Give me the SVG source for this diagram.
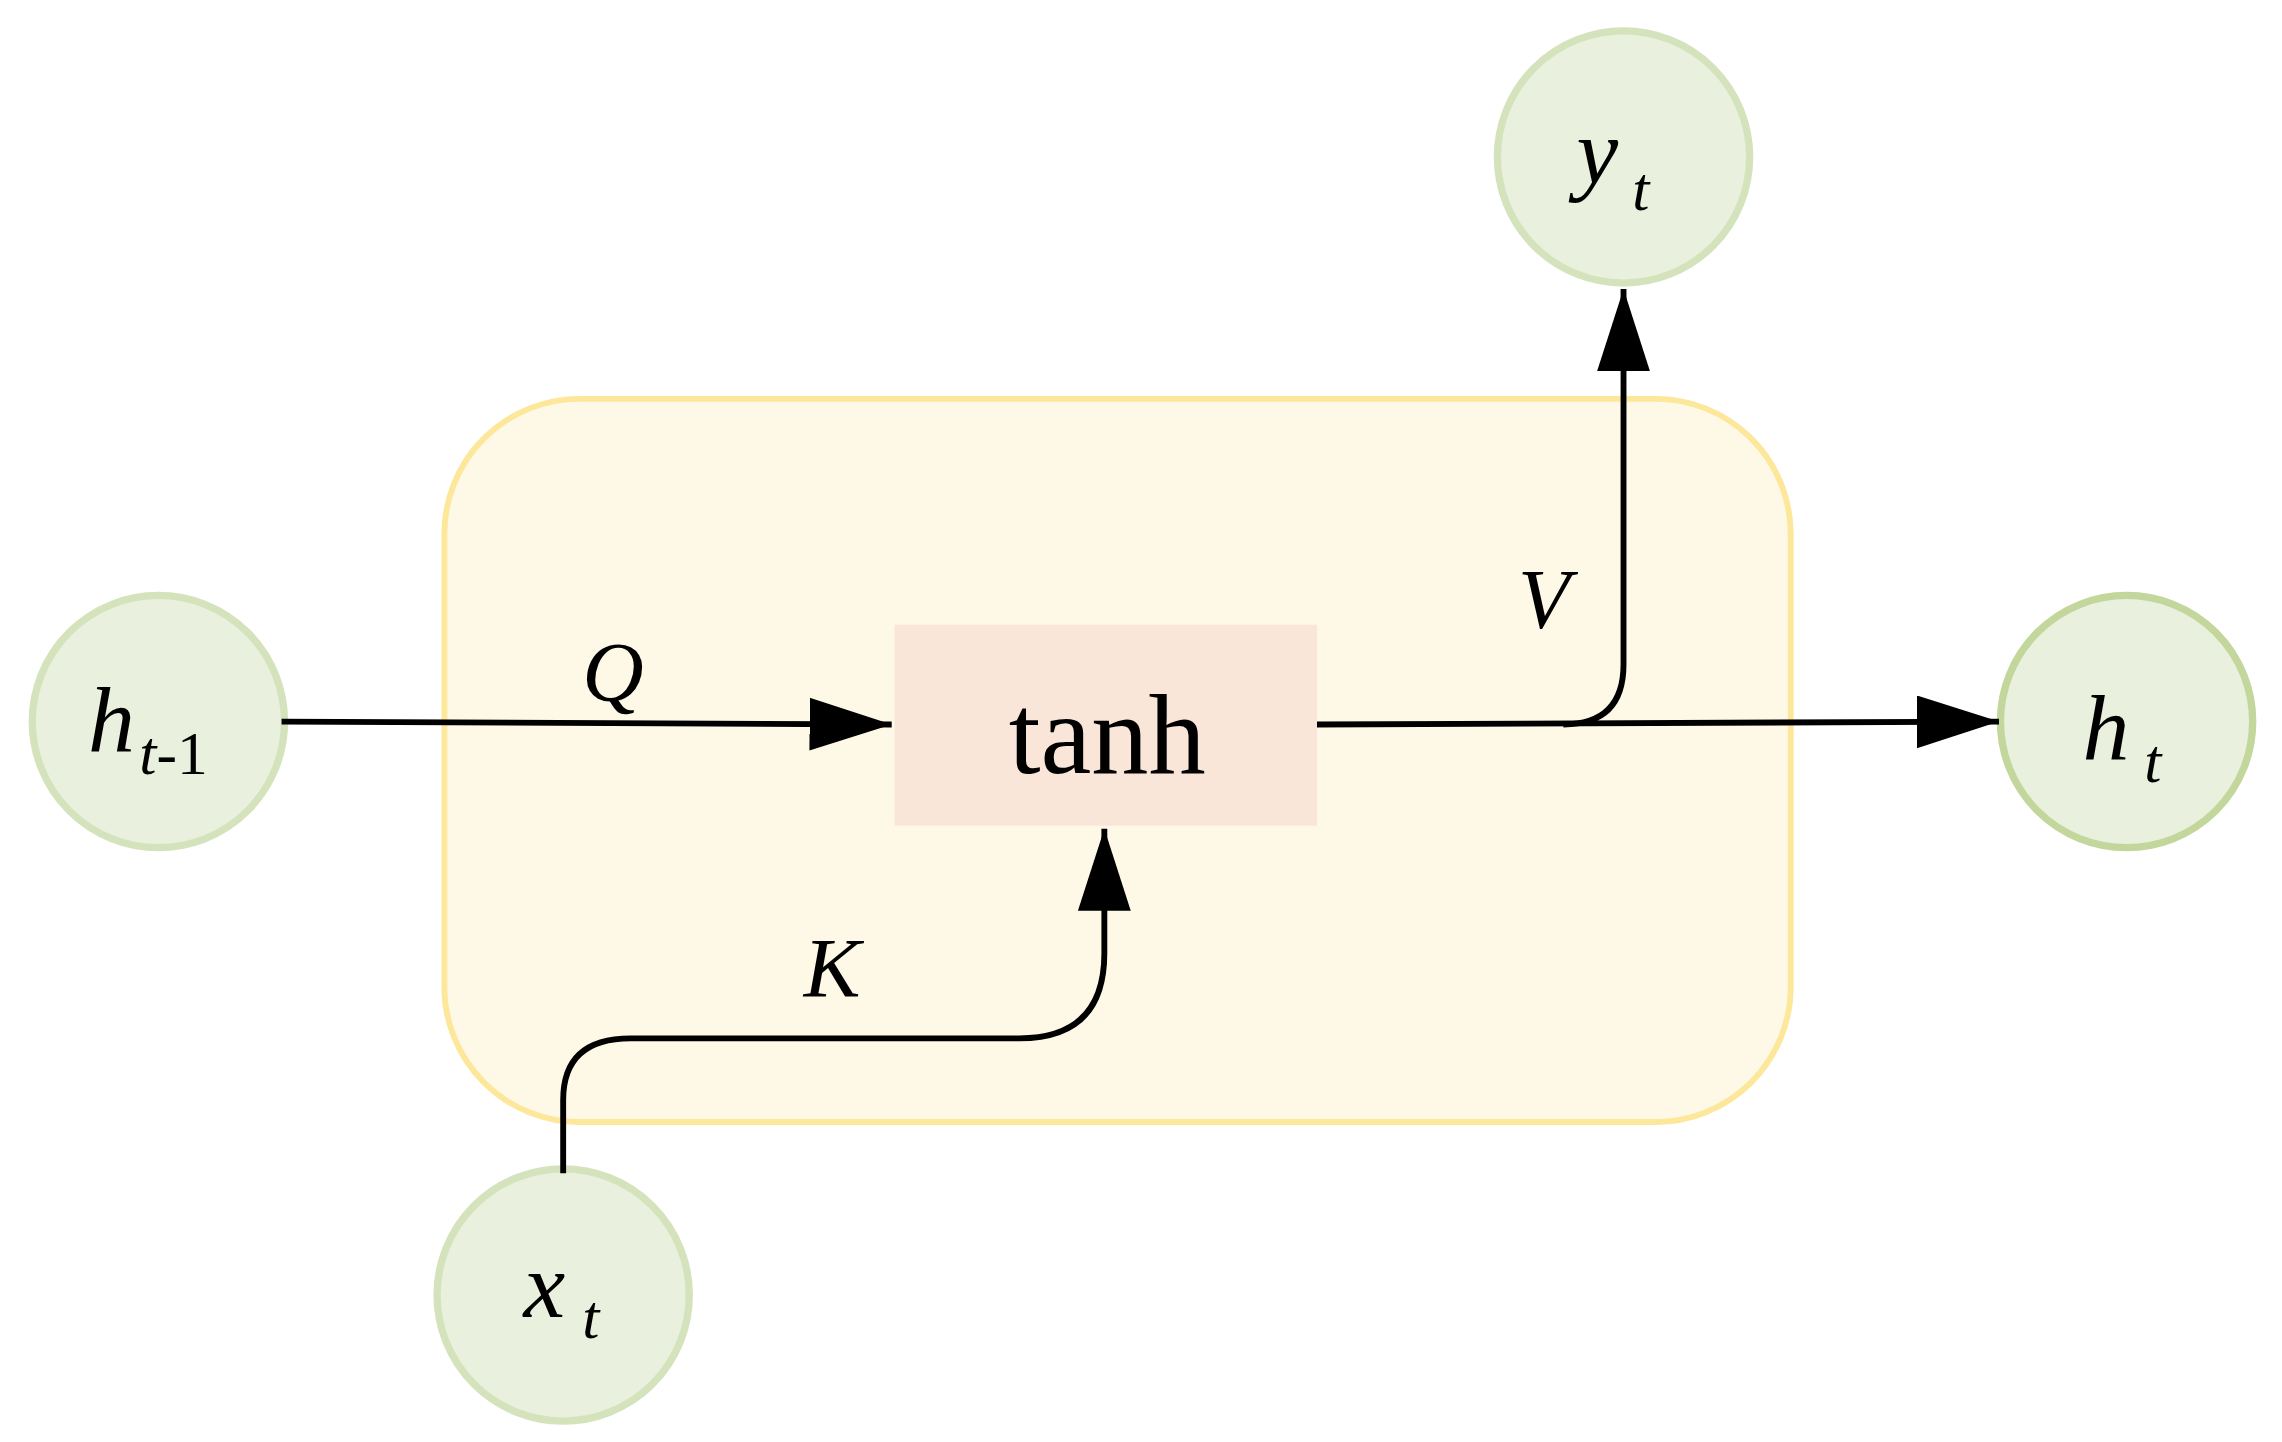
<svg xmlns="http://www.w3.org/2000/svg" width="2282" height="1442" viewBox="0 0 2282 1442">
<style>
.c{fill:#e9f0dd;stroke:#d5e3bd;stroke-width:5}
.l{fill:none;stroke:#000;stroke-width:4}
.t{font-family:"Liberation Serif",serif;font-style:italic;fill:#000}
.n{font-family:"Liberation Serif",serif;fill:#000}
</style>
<defs>
<marker id="a" markerUnits="userSpaceOnUse" markerWidth="60" markerHeight="40" refX="56" refY="18" orient="auto">
<polygon points="0,0 56,18 0,36"/>
</marker>
</defs>
<rect width="2282" height="1442" fill="#fff"/>
<g transform="scale(1.4666)">
<g id="cell"><rect x="303" y="272" width="918" height="493" rx="92" fill="#fef8e7" stroke="#fde79a" stroke-width="4"/></g>
<g id="tanh"><rect x="610" y="426" width="288" height="137" fill="#fae6d8"/>
<text class="n" x="755" y="527" font-size="78" text-anchor="middle">tanh</text></g>
<g id="hprev"><circle class="c" cx="108" cy="492" r="86"/>
<text class="t" x="60" y="513" font-size="64">h</text><text x="95" y="528" font-size="42" class="n"><tspan font-style="italic">t</tspan>-1</text></g>
<g id="yt"><circle class="c" cx="1107" cy="107" r="86"/>
<text class="t" x="1075" y="125" font-size="64">y</text><text class="t" x="1113" y="143" font-size="42">t</text></g>
<g id="ht"><circle class="c" cx="1450" cy="492" r="86" style="stroke:#c3d69b"/>
<text class="t" x="1420" y="518" font-size="64">h</text><text class="t" x="1462" y="533" font-size="42">t</text></g>
<g id="xt"><circle class="c" cx="384" cy="883" r="86"/>
<text class="t" x="357" y="898" font-size="64">x</text><text class="t" x="397" y="912" font-size="42">t</text></g>
<g id="connectors">
<path class="l" d="M192,492 L608,494" marker-end="url(#a)"/>
<path class="l" d="M898,494 L1363,492" marker-end="url(#a)"/>
<path class="l" d="M1066,494 Q1107,494 1107,453 L1107,197" marker-end="url(#a)"/>
<path class="l" d="M384,800 L384,750 Q384,708 430,708 L695,708 Q753,708 753,650 L753,565" marker-end="url(#a)"/>
<text class="t" x="397" y="478" font-size="58">Q</text>
<text class="t" x="548" y="680" font-size="58">K</text>
<text class="t" x="1035" y="428" font-size="58">V</text>
</g>
</g>
</svg>
